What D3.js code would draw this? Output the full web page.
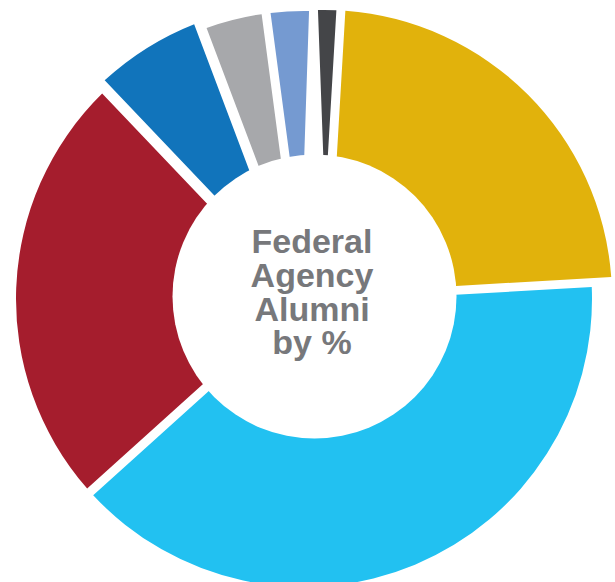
<!DOCTYPE html>
<html>
<head>
<meta charset="utf-8">
<script src="https://cdn.jsdelivr.net/npm/d3@7"></script>
<style>
  html, body { margin: 0; padding: 0; background: #ffffff; }
  svg { display: block; }
</style>
</head>
<body>
<svg id="chart" width="615" height="582"></svg>
<script>
// ---- data ----
const categories = ["Segment 1", "Segment 2", "Segment 3", "Segment 4", "Segment 5", "Segment 6", "Segment 7"];
const values = [1.5, 22.9, 38.8, 24.3, 6.3, 3.6, 2.6];
const colors = ["#444548", "#E1B20C", "#22C1F1", "#A51D2D", "#1174BB", "#A7A8AB", "#759AD1"];
const centerLines = ["Federal", "Agency", "Alumni", "by %"];

// ---- layout / style ----
const W = 615, H = 582;
const cx = 304, cy = 299, R = 288, r0 = 120;
const hole = { x: 314.5, y: 296.5, r: 142 };
const offsets = [[20, -1], [20, -1], [0, 0], [0, 0], [-4, -7], [0, 0], [0, 0]];
const deg = Math.PI / 180;

// angle scale: cumulative value -> angle (clockwise from 12 o'clock)
const angle = d3.scaleLinear()
  .domain([0, d3.sum(values)])
  .range([-2.1 * deg, 361.9 * deg]);

const cum = d3.cumsum(values);
const slices = categories.map((c, i) => ({
  name: c,
  value: values[i],
  color: colors[i],
  off: offsets[i],
  startAngle: angle(cum[i] - values[i]),
  endAngle: angle(cum[i])
}));

const svg = d3.select("#chart");
svg.append("rect").attr("width", W).attr("height", H).attr("fill", "#ffffff");

const arc = d3.arc().innerRadius(r0).outerRadius(R).padRadius(100).padAngle(0.09);

svg.append("g")
  .selectAll("path")
  .data(slices)
  .join("path")
  .attr("transform", d => `translate(${cx + d.off[0]},${cy + d.off[1]})`)
  .attr("d", arc)
  .attr("fill", d => d.color);

svg.append("circle")
  .attr("cx", hole.x).attr("cy", hole.y).attr("r", hole.r)
  .attr("fill", "#ffffff");

const baselines = [253, 287, 321, 354];
svg.append("text")
  .attr("text-anchor", "middle")
  .attr("font-family", "'Liberation Sans', Arial, sans-serif")
  .attr("font-weight", "bold")
  .attr("font-size", 34)
  .attr("fill", "#77787B")
  .selectAll("tspan")
  .data(centerLines)
  .join("tspan")
  .attr("x", 312)
  .attr("y", (d, i) => baselines[i])
  .text(d => d);
</script>
</body>
</html>
